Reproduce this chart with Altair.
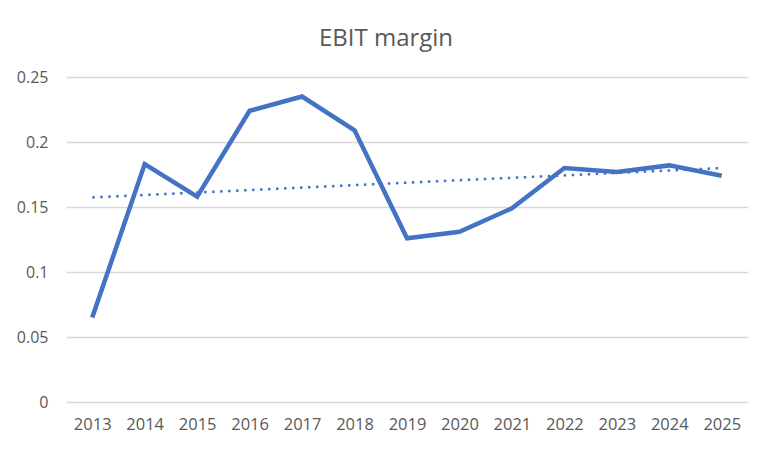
import altair as alt
import pandas as pd

years = [2013, 2014, 2015, 2016, 2017, 2018, 2019, 2020, 2021, 2022, 2023, 2024, 2025]
ebit_margin = [0.065, 0.183, 0.158, 0.224, 0.235, 0.209, 0.126, 0.131, 0.149, 0.180, 0.177, 0.182, 0.174]
y_ticks = [0, 0.05, 0.10, 0.15, 0.20, 0.25]

df = pd.DataFrame({"year": years, "margin": ebit_margin})

FONT = "Open Sans"
GREY = "#595959"
BLUE = "#4472C4"

x_enc = alt.X(
    "year:Q",
    scale=alt.Scale(domain=[2012.5, 2025.5], nice=False, zero=False),
    axis=alt.Axis(values=years, format="d", grid=False, ticks=False, domain=False,
                  labelPadding=14, labelFontSize=16.5, labelColor=GREY, labelFont=FONT,
                  title=None),
)
y_enc = alt.Y(
    "margin:Q",
    scale=alt.Scale(domain=[0, 0.25], nice=False),
    axis=alt.Axis(values=y_ticks, format="~g", grid=True, gridColor="#D9D9D9", gridWidth=1.3,
                  ticks=False, domain=False, labelPadding=18, labelFontSize=16,
                  labelColor=GREY, labelFont=FONT, title=None),
)

base = alt.Chart(df)

line = base.mark_line(color=BLUE, strokeWidth=4.5, strokeJoin="miter", strokeCap="butt").encode(
    x=x_enc, y=y_enc
)

trend = base.transform_regression("year", "margin", method="linear").mark_line(
    color=BLUE, strokeWidth=2.5, strokeDash=[2.5, 5.5], strokeCap="butt"
).encode(x=x_enc, y=y_enc)

chart = (
    alt.layer(trend, line)
    .properties(
        width=682,
        height=325,
        padding={"left": 58, "top": 69, "right": 10, "bottom": 36},
        autosize=alt.AutoSizeParams(type="none"),
        title=alt.TitleParams("EBIT margin", fontSize=24, font=FONT, fontWeight="normal",
                              color=GREY, anchor="middle", offset=18, dx=-21),
        background="white",
    )
    .configure_view(stroke=None)
)

chart.save("out.html", embed_options={"renderer": "svg", "actions": False})
